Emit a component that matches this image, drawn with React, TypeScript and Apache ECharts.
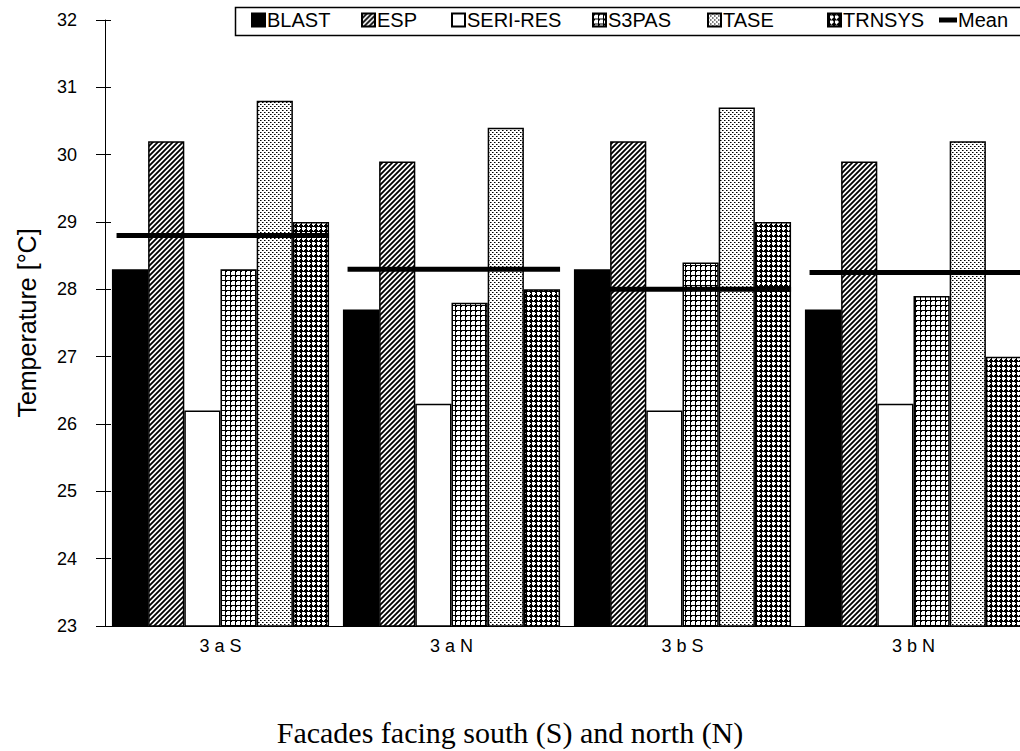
import React, { useEffect, useRef } from 'react';
import * as echarts from 'echarts';

const categories = ['3 a S', '3 a N', '3 b S', '3 b N'];
const blast = [28.3, 27.7, 28.3, 27.7];
const esp = [30.2, 29.9, 30.2, 29.9];
const seriRes = [26.2, 26.3, 26.2, 26.3];
const s3pas = [28.3, 27.8, 28.4, 27.9];
const tase = [30.8, 30.4, 30.7, 30.2];
const trnsys = [29.0, 28.0, 29.0, 27.0];
const meanValues = [28.8, 28.3, 28.0, 28.25];
const legendNames = ['BLAST', 'ESP', 'SERI-RES', 'S3PAS', 'TASE', 'TRNSYS', 'Mean'];
const yMin = 23;
const yMax = 32;
const yStep = 1;
const xTitle = 'Facades facing south (S) and north (N)';
const yTitle = 'Temperature [°C]';

// legend item left positions (layout)
const legendLeft = [251, 361, 451, 592, 707, 827, 939];

function tile(w: number, h: number, draw: (ctx: CanvasRenderingContext2D) => void) {
  const c = document.createElement('canvas');
  c.width = w;
  c.height = h;
  const ctx = c.getContext('2d') as CanvasRenderingContext2D;
  ctx.fillStyle = '#fff';
  ctx.fillRect(0, 0, w, h);
  ctx.fillStyle = '#000';
  ctx.strokeStyle = '#000';
  draw(ctx);
  return { image: c, repeat: 'repeat', imageWidth: w, imageHeight: h } as any;
}

export default function App() {
  const ref = useRef<HTMLDivElement>(null);
  useEffect(() => {
    document.body.style.margin = '0';
    const chart = echarts.init(ref.current!, null, { renderer: 'svg' });

    const espPat = tile(5, 5, (ctx) => {
      ctx.lineWidth = 1.8;
      ctx.beginPath();
      ctx.moveTo(-1, 6); ctx.lineTo(6, -1);
      ctx.moveTo(-1, 1); ctx.lineTo(1, -1);
      ctx.moveTo(4, 6); ctx.lineTo(6, 4);
      ctx.stroke();
    });
    const s3Pat = tile(5, 5, (ctx) => {
      ctx.fillRect(0, 0, 5, 1);
      ctx.fillRect(0, 0, 1, 5);
      ctx.fillRect(0, 0, 2, 2);
    });
    const tasePat = tile(4, 4, (ctx) => {
      ctx.fillRect(0, 0, 1, 1);
      ctx.fillRect(2, 2, 1, 1);
      ctx.fillStyle = '#777';
      ctx.fillRect(1, 0, 1, 1);
      ctx.fillRect(3, 2, 1, 1);
    });
    const trnPat = tile(5, 5, (ctx) => {
      ctx.fillRect(0, 0, 5, 2);
      ctx.fillRect(0, 0, 2, 5);
      ctx.fillStyle = '#fff';
      ctx.fillRect(3, 0, 1, 1);
      ctx.fillRect(0, 3, 1, 1);
    });

    const font = 'Liberation Sans, Arial, sans-serif';
    const barBase = {
      type: 'bar',
      barGap: '0%',
      barCategoryGap: '6%',
      xAxisIndex: 0,
      yAxisIndex: 0,
    };
    const mk = (name: string, data: number[], color: any) => ({
      ...barBase,
      name,
      data,
      itemStyle: { color, borderColor: '#000', borderWidth: 1.5 },
    });

    const legends = legendNames.map((name, i) => ({
      left: legendLeft[i],
      top: 10,
      padding: 0,
      itemWidth: name === 'Mean' ? 18 : 13,
      itemHeight: 13,
      selectedMode: false,
      textStyle: { fontFamily: font, fontSize: 20, color: '#000', padding: [0, 0, 0, name === 'Mean' ? -4 : -3] },
      data: [{ name, icon: name === 'Mean' ? 'path://M0,0H18V5H0Z' : 'rect' }],
    }));

    chart.setOption({
      animation: false,
      backgroundColor: '#fff',
      title: {
        text: xTitle,
        left: 'center',
        top: 712,
        textStyle: { fontFamily: 'Liberation Serif, Times New Roman, serif', fontSize: 30, fontWeight: 'normal', color: '#000' },
      },
      graphic: [
        {
          type: 'rect',
          z: -1,
          shape: { x: 235.5, y: 7.5, width: 800, height: 28 },
          style: { fill: 'none', stroke: '#000', lineWidth: 1.5 },
        },
      ],
      legend: legends,
      grid: { left: 105, top: 20, width: 924, height: 606, containLabel: false, outerBoundsMode: 'none' },
      xAxis: [
        {
          type: 'category',
          data: categories,
          axisLine: { lineStyle: { color: '#000', width: 1 } },
          axisTick: { length: 5, lineStyle: { color: '#000' } },
          axisLabel: { color: '#000', fontFamily: font, fontSize: 18, margin: 11 },
        },
        {
          type: 'category',
          data: categories,
          position: 'bottom',
          axisLine: { show: false },
          axisTick: { inside: true, length: 8, lineStyle: { color: '#000' } },
          axisLabel: { show: false },
        },
      ],
      yAxis: [
        {
          type: 'value',
          min: yMin,
          max: yMax,
          interval: yStep,
          splitLine: { show: false },
          axisLine: { show: true, lineStyle: { color: '#000', width: 1 } },
          axisTick: { show: true, length: 9, lineStyle: { color: '#000' } },
          axisLabel: { color: '#000', fontFamily: font, fontSize: 18, margin: 28 },
          name: yTitle,
          nameLocation: 'middle',
          nameRotate: 90,
          nameGap: 66,
          nameTextStyle: { color: '#000', fontFamily: font, fontSize: 25 },
        },
        {
          type: 'value',
          min: yMin,
          max: yMax,
          interval: yStep,
          position: 'left',
          splitLine: { show: false },
          axisLine: { show: false },
          axisTick: { show: true, inside: true, length: 6, lineStyle: { color: '#000' } },
          axisLabel: { show: false },
        },
      ],
      series: [
        mk('BLAST', blast, '#000'),
        mk('ESP', esp, espPat),
        mk('SERI-RES', seriRes, '#fff'),
        mk('S3PAS', s3pas, s3Pat),
        mk('TASE', tase, tasePat),
        mk('TRNSYS', trnsys, trnPat),
        {
          type: 'custom',
          name: 'Mean',
          xAxisIndex: 0,
          yAxisIndex: 0,
          z: 5,
          itemStyle: { color: '#000' },
          data: meanValues.map((v, i) => [i, v]),
          encode: { x: 0, y: 1 },
          renderItem: (params: any, api: any) => {
            const c = api.coord([api.value(0), api.value(1)]);
            const w = api.size([1, 0])[0];
            return {
              type: 'line',
              shape: { x1: c[0] - w * 0.45, y1: c[1], x2: c[0] + w * 0.47, y2: c[1] },
              style: { stroke: '#000', lineWidth: 5 },
            };
          },
        },
      ],
    } as any);
    return () => chart.dispose();
  }, []);
  return <div ref={ref} style={{ width: 1020, height: 751 }} />;
}
